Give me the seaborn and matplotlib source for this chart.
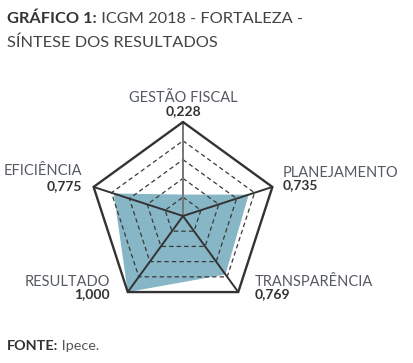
import numpy as np
import pandas as pd
import seaborn as sns
import matplotlib.pyplot as plt

categorias = ["GESTÃO FISCAL", "PLANEJAMENTO", "TRANSPARÊNCIA", "RESULTADO", "EFICIÊNCIA"]
valores = [0.228, 0.735, 0.769, 1.000, 0.775]
rotulos_valor = ["0,228", "0,735", "0,769", "1,000", "0,775"]
niveis = [0.2, 0.4, 0.6, 0.8]

sns.set_theme(style="white")
plt.rcParams["font.family"] = ["Lato", "DejaVu Sans"]

W, H = 414, 363
cx, cy, R = 183, 216, 94  # centro e raio em pixels

fig = plt.figure(figsize=(W / 100, H / 100), dpi=100)
ax = fig.add_axes([0, 0, 1, 1])
ax.set_xlim(-cx / R, (W - cx) / R)
ax.set_ylim(-(H - cy) / R, cy / R)
ax.axis("off")

ang = np.deg2rad(90 - 72 * np.arange(len(categorias)))
ang_f = np.append(ang, ang[0])

# area preenchida
v = np.append(valores, valores[0])
ax.fill(v * np.cos(ang_f), v * np.sin(ang_f), color="#87b6c6", lw=0, zorder=1)

# aneis tracejados
aneis = pd.DataFrame({
    "x": np.concatenate([n * np.cos(ang_f) for n in niveis]),
    "y": np.concatenate([n * np.sin(ang_f) for n in niveis]),
    "nivel": np.repeat(niveis, len(ang_f)),
})
sns.lineplot(data=aneis, x="x", y="y", units="nivel", estimator=None, sort=False,
             color="#3a3a3a", lw=0.9, linestyle=(0, (3.5, 2.5)), ax=ax, legend=False, zorder=2)

# raios
for i, a in enumerate(ang):
    ax.plot([0, np.cos(a)], [0, np.sin(a)], color="#777777" if i == 0 else "#333333",
            lw=1.4, zorder=3, solid_capstyle="butt")

# contorno externo
ax.plot(np.cos(ang_f), np.sin(ang_f), color="#333333", lw=1.7, zorder=4,
        solid_joinstyle="miter")
ax.set_xlabel("")
ax.set_ylabel("")


def px(x, y):
    return x / W, 1 - y / H


cor_rot = "#555a62"
cor_val = "#333333"
pos = [  # (x, y rotulo, y valor, alinhamento)
    (183, 102, 115, "center"),
    (283, 177, 189, "left"),
    (255, 286, 298, "left"),
    (110, 286, 298, "right"),
    (82, 175, 190, "right"),
]
for cat, rv, (x, y1, y2, ha) in zip(categorias, rotulos_valor, pos):
    fig.text(*px(x, y1), cat, ha=ha, va="baseline", fontsize=10.5, color=cor_rot)
    fig.text(*px(x, y2), rv, ha=ha, va="baseline", fontsize=10, fontweight="bold", color=cor_val)

# titulo
t1 = fig.text(*px(7, 23), "GRÁFICO 1:", ha="left", va="baseline", fontsize=11.8,
              fontweight="bold", color="#333333")
ax.annotate(" ICGM 2018 - FORTALEZA -", xy=(1, 0), xycoords=t1, ha="left", va="bottom",
            fontsize=11.8, color="#444444")
fig.text(*px(7, 47), "SÍNTESE DOS RESULTADOS", ha="left", va="baseline", fontsize=11.8,
         color="#444444")

# fonte
t2 = fig.text(*px(7, 350), "FONTE:", ha="left", va="baseline", fontsize=10.4,
              fontweight="bold", color="#333333")
ax.annotate(" Ipece.", xy=(1, 0), xycoords=t2, ha="left", va="bottom", fontsize=10.4,
            color="#555555")

fig.savefig("out.png", dpi=100)
